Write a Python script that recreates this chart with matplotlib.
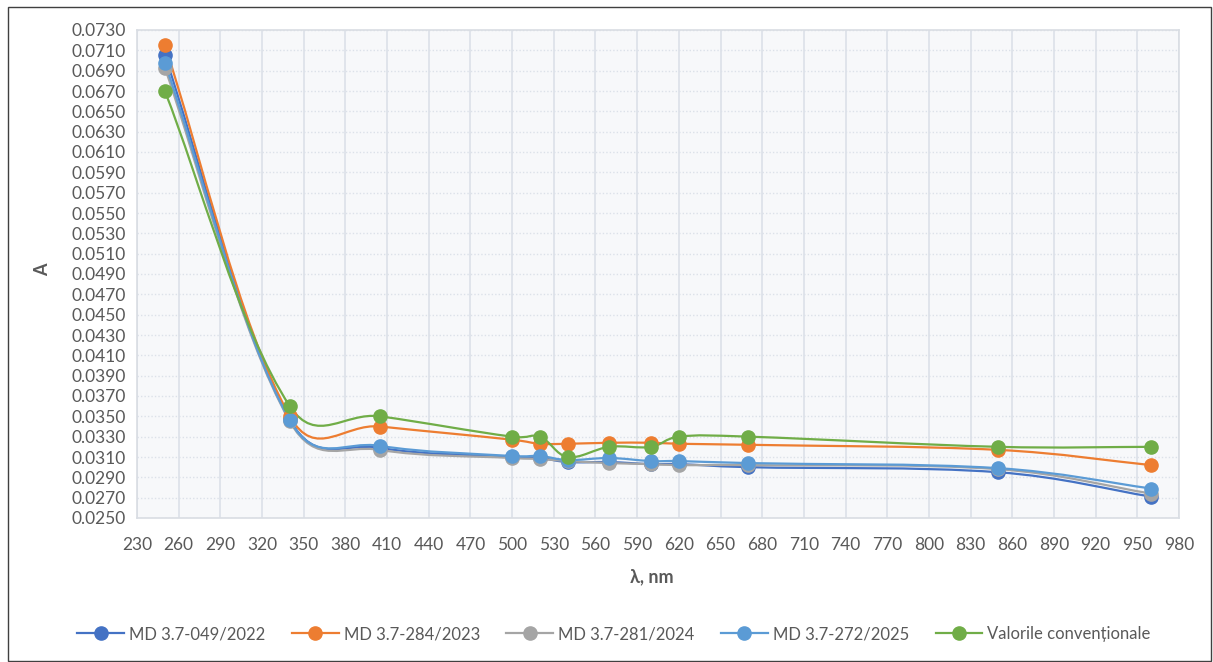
import matplotlib
matplotlib.use("Agg")
import matplotlib.pyplot as plt
import numpy as np
from matplotlib.path import Path
from matplotlib.patches import PathPatch, Rectangle
from matplotlib.lines import Line2D

wavelength = [250, 340, 405, 500, 520, 540, 570, 600, 620, 670, 850, 960]
md_2022 = [0.0705, 0.0347, 0.0319, 0.0310, 0.0309, 0.0305, 0.0305, 0.0303, 0.0303, 0.0300, 0.0295, 0.0271]
md_2023 = [0.0715, 0.0350, 0.0340, 0.0327, 0.0323, 0.0323, 0.0324, 0.0324, 0.0323, 0.0322, 0.0317, 0.0302]
md_2024 = [0.0693, 0.0345, 0.0317, 0.0309, 0.0308, 0.0306, 0.0304, 0.0303, 0.0302, 0.0302, 0.0298, 0.0274]
md_2025 = [0.0698, 0.0346, 0.0321, 0.0311, 0.0311, 0.0307, 0.0309, 0.0306, 0.0306, 0.0304, 0.0299, 0.0279]
conventional = [0.0670, 0.0360, 0.0350, 0.0330, 0.0330, 0.0310, 0.0320, 0.0320, 0.0330, 0.0330, 0.0320, 0.0320]

series_names = ["MD 3.7-049/2022", "MD 3.7-284/2023", "MD 3.7-281/2024",
                "MD 3.7-272/2025", "Valorile convenționale"]
series_values = [md_2022, md_2023, md_2024, md_2025, conventional]
colors = ["#4472C4", "#ED7D31", "#A5A5A5", "#5B9BD5", "#70AD47"]

x_ticks = list(range(230, 981, 30))
y_ticks = [round(0.025 + 0.002 * i, 4) for i in range(25)]

plt.rcParams['font.family'] = ['Lato', 'DejaVu Sans']
text_color = "#595959"

fig = plt.figure(figsize=(12.13, 6.62), dpi=100)
ax = fig.add_axes([137/1213, 1 - 518/662, (1179-137)/1213, (518-30)/662])
ax.set_facecolor("#F7F8FA")

def smooth_path(xs, ys):
    xs = np.asarray(xs, float); ys = np.asarray(ys, float)
    sx = 1042/750.0; sy = 488/0.048
    P = np.column_stack([xs * sx, ys * sy])
    n = len(P)
    d = np.hypot(*np.diff(P, axis=0).T)
    tang = np.zeros_like(P)
    for i in range(n):
        if i == 0:
            tang[i] = (P[1] - P[0]) / d[0]
        elif i == n - 1:
            tang[i] = (P[-1] - P[-2]) / d[-1]
        else:
            tang[i] = (P[i+1] - P[i-1]) / (d[i-1] + d[i])
    verts = [tuple(P[0])]
    codes = [Path.MOVETO]
    for i in range(n - 1):
        p0 = P[i-1] if i > 0 else P[i]
        p3 = P[i+2] if i + 2 < n else P[i+1]
        u1 = P[i] + (P[i+1] - p0) / 6
        u2 = P[i+1] - (p3 - P[i]) / 6
        k1 = P[i] + tang[i] * d[i] / 2.6
        k2 = P[i+1] - tang[i+1] * d[i] / 2.6
        c1 = 0.5 * (u1 + k1)
        c2 = 0.5 * (u2 + k2)
        for c in (c1, c2, P[i+1]):
            verts.append(tuple(c))
            codes.append(Path.CURVE4)
    verts = [(v[0]/sx, v[1]/sy) for v in verts]
    return Path(verts, codes)

for name, vals, col in zip(series_names, series_values, colors):
    patch = PathPatch(smooth_path(wavelength, vals), facecolor='none',
                      edgecolor=col, lw=1.6, zorder=3)
    ax.add_patch(patch)
for name, vals, col in zip(series_names, series_values, colors):
    ax.plot(wavelength, vals, linestyle='none', marker='o', markersize=9.5,
            color=col, zorder=4)

ax.set_xlim(230, 980)
ax.set_ylim(0.025, 0.073)
ax.set_xticks(x_ticks)
ax.set_yticks(y_ticks)
ax.set_yticklabels([f"{v:.4f}" for v in y_ticks])
ax.tick_params(axis='both', length=0, labelsize=12.5, colors=text_color, pad=8)
ax.tick_params(axis='x', pad=14)
ax.grid(axis='x', color="#DCE1E9", lw=1.2, linestyle='-', zorder=0)
ax.grid(axis='y', color="#DCE1E9", lw=1.0, linestyle=(0, (1, 1.5)), zorder=0)
ax.set_axisbelow(True)
for s in ax.spines.values():
    s.set_color("#D9DDE3")
    s.set_linewidth(1.2)

fig.text(43/1213, 1 - 270/662, "A", rotation=90, ha='center', va='center',
         fontsize=13, fontweight='bold', color=text_color)
fig.text(652/1213, 1 - 577/662, "λ, nm", ha='center', va='center',
         fontsize=13, fontweight='bold', color=text_color)

handles = [Line2D([], [], color=c, lw=1.6, marker='o', markersize=9.5) for c in colors]
leg = fig.legend(handles, series_names, loc='center', bbox_to_anchor=(614/1213, 1 - 634/662),
                 ncol=5, frameon=False, fontsize=12, handlelength=2.8,
                 columnspacing=1.6, handletextpad=0.3)
for t in leg.get_texts():
    t.set_color(text_color)

fig.patches.append(Rectangle((8/1213, 1/662), 1203/1213, 654/662, transform=fig.transFigure,
                             fill=False, edgecolor="#404040", lw=1.0))

fig.savefig("out.png", dpi=100)
